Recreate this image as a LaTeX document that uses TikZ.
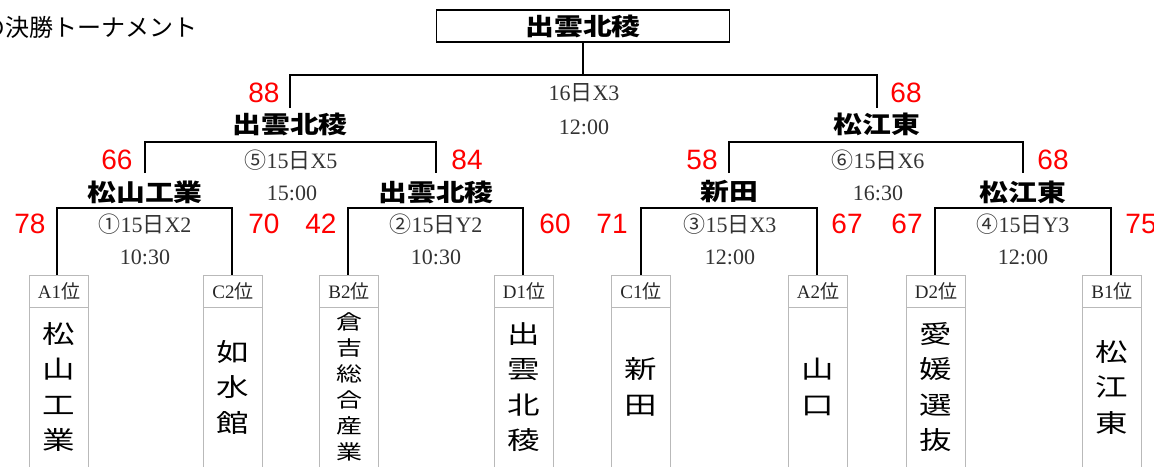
\documentclass[tikz,border=0pt]{standalone}
\usepackage{fontspec}
\setmainfont{Liberation Serif}
\newfontfamily\jpg{Noto Sans CJK JP}
\newfontfamily\jpbold[FakeStretch=1.2]{Noto Sans CJK JP}
\newfontfamily\jpname[FakeStretch=1.3]{Noto Sans CJK JP}
\newfontfamily\sansnum{Liberation Sans}
\begin{document}
\begin{tikzpicture}[x=1pt,y=-1pt,
  bar/.style={line width=2pt, black},
  champbox/.style={draw, line width=1.8pt, minimum width=293pt, minimum height=32pt, inner sep=0pt, font=\jpbold\bfseries\fontsize{24}{24}\selectfont},
  winner/.style={inner sep=0pt, font=\jpbold\bfseries\fontsize{24}{24}\selectfont},
  score/.style={inner sep=0pt, text=red, font=\sansnum\fontsize{28}{28}\selectfont},
  matchinfo/.style={inner sep=0pt, text=black!80, font=\fontsize{22}{22}\selectfont},
  seedbox/.style={draw=gray!55, line width=0.8pt, minimum width=59pt, minimum height=32pt, inner sep=0pt, text=black!85, font=\fontsize{19}{19}\selectfont},
  namebox/.style={draw=gray!55, line width=0.8pt, minimum width=59pt, minimum height=160pt, inner sep=0pt, align=center, font=\jpname\fontsize{25}{35.5}\selectfont},
  smallname/.style={font=\jpname\fontsize{20}{26}\selectfont},
  heading/.style={anchor=west, inner sep=0pt, font=\jpg\fontsize{24}{24}\selectfont}
]
\useasboundingbox (0,0) rectangle (1154,466);
\clip (0,0) rectangle (1154,466);

% heading
\node[heading] (ttl) at (-19,27) {の決勝トーナメント};

% champion
\node[champbox] (champ) at (583,26) {出雲北稜};

% leaves
\node[seedbox] (sA1) at (59,291) {A1{\jpg 位}};
\node[seedbox] (sC2) at (233,291) {C2{\jpg 位}};
\node[seedbox] (sB2) at (349,291) {B2{\jpg 位}};
\node[seedbox] (sD1) at (524,291) {D1{\jpg 位}};
\node[seedbox] (sC1) at (641,291) {C1{\jpg 位}};
\node[seedbox] (sA2) at (818,291) {A2{\jpg 位}};
\node[seedbox] (sD2) at (936,291) {D2{\jpg 位}};
\node[seedbox] (sB1) at (1112,291) {B1{\jpg 位}};

\node[namebox] (nA1) at (59,387) {松\\山\\工\\業};
\node[namebox] (nC2) at (233,387) {如\\水\\館};
\node[namebox, smallname] (nB2) at (349,387) {倉\\吉\\総\\合\\産\\業};
\node[namebox] (nD1) at (524,387) {出\\雲\\北\\稜};
\node[namebox] (nC1) at (641,387) {新\\田};
\node[namebox] (nA2) at (818,387) {山\\口};
\node[namebox] (nD2) at (936,387) {愛\\媛\\選\\抜};
\node[namebox] (nB1) at (1112,387) {松\\江\\東};

% first round brackets
\coordinate (m1L) at (57,208); \coordinate (m1R) at (232,208);
\coordinate (m2L) at (348,208); \coordinate (m2R) at (523,208);
\coordinate (m3L) at (641,208); \coordinate (m3R) at (817,208);
\coordinate (m4L) at (935,208); \coordinate (m4R) at (1111,208);
\draw[bar] (sA1.north -| m1L) -- (m1L) -- (m1R) -- (sC2.north -| m1R);
\draw[bar] (sB2.north -| m2L) -- (m2L) -- (m2R) -- (sD1.north -| m2R);
\draw[bar] (sC1.north -| m3L) -- (m3L) -- (m3R) -- (sA2.north -| m3R);
\draw[bar] (sD2.north -| m4L) -- (m4L) -- (m4R) -- (sB1.north -| m4R);

% first round winners
\node[winner] (w1) at (145,192) {松山工業};
\node[winner] (w2) at (436,192) {出雲北稜};
\node[winner] (w3) at (729,192) {新田};
\node[winner] (w4) at (1023,192) {松江東};

% second round brackets
\coordinate (s1b) at (145,173); \coordinate (s1t) at (145,142);
\coordinate (s2b) at (436,173); \coordinate (s2t) at (436,142);
\coordinate (s3b) at (729,173); \coordinate (s3t) at (729,142);
\coordinate (s4b) at (1023,173); \coordinate (s4t) at (1023,142);
\draw[bar] (s1b) -- (s1t) -- (s2t) -- (s2b);
\draw[bar] (s3b) -- (s3t) -- (s4t) -- (s4b);

% semi-final winners
\node[winner] (w5) at (290,124) {出雲北稜};
\node[winner] (w6) at (877,124) {松江東};

% final bracket
\coordinate (fLb) at (290,108); \coordinate (fL) at (290,75);
\coordinate (fRb) at (877,108); \coordinate (fR) at (877,75);
\coordinate (fC) at (583,75);
\draw[bar] (fLb) -- (fL) -- (fR) -- (fRb);
\draw[bar] (champ.south) -- (fC);

% match info
\node[matchinfo] (i0) at (584,93) {16{\jpg 日}X3};
\node[matchinfo] (t0) at (584,127) {12:00};
\node[matchinfo] (i5) at (291,160) {{\jpg ⑤}15{\jpg 日}X5};
\node[matchinfo] (t5) at (292,193) {15:00};
\node[matchinfo] (i6) at (878,160) {{\jpg ⑥}15{\jpg 日}X6};
\node[matchinfo] (t6) at (878,193) {16:30};
\node[matchinfo] (i1) at (145,224) {{\jpg ①}15{\jpg 日}X2};
\node[matchinfo] (t1) at (145,257) {10:30};
\node[matchinfo] (i2) at (436,224) {{\jpg ②}15{\jpg 日}Y2};
\node[matchinfo] (t2) at (436,257) {10:30};
\node[matchinfo] (i3) at (730,224) {{\jpg ③}15{\jpg 日}X3};
\node[matchinfo] (t3) at (730,257) {12:00};
\node[matchinfo] (i4) at (1023,224) {{\jpg ④}15{\jpg 日}Y3};
\node[matchinfo] (t4) at (1023,257) {12:00};

% scores
\node[score] (c88) at (264,93) {88};
\node[score] (c68a) at (906,93) {68};
\node[score] (c66) at (117,160) {66};
\node[score] (c84) at (467,160) {84};
\node[score] (c58) at (702,160) {58};
\node[score] (c68b) at (1053,160) {68};
\node[score] (c78) at (30,224) {78};
\node[score] (c70) at (264,224) {70};
\node[score] (c42) at (321,224) {42};
\node[score] (c60) at (555,224) {60};
\node[score] (c71) at (612,224) {71};
\node[score] (c67a) at (847,224) {67};
\node[score] (c67b) at (907,224) {67};
\node[score] (c75) at (1141,224) {75};
\end{tikzpicture}
\end{document}
